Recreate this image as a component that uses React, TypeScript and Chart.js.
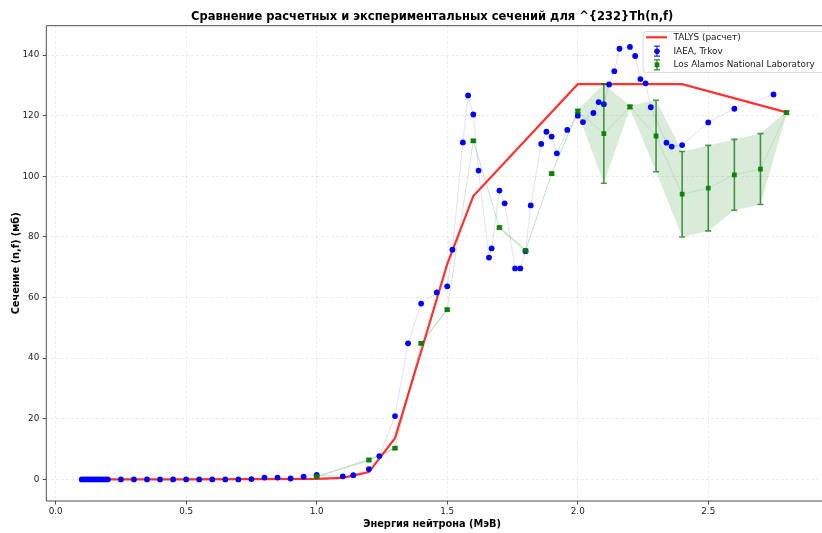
import React, { useEffect, useRef } from 'react';
import { Chart, registerables } from 'chart.js';

Chart.register(...registerables);

const TITLE = 'Сравнение расчетных и экспериментальных сечений для ^{232}Th(n,f)';
const X_LABEL = 'Энергия нейтрона (МэВ)';
const Y_LABEL = 'Сечение (n,f) (мб)';
const TALYS_LABEL = 'TALYS (расчет)';
const IAEA_LABEL = 'IAEA, Trkov';
const LANL_LABEL = 'Los Alamos National Laboratory';

// TALYS calculation
const talysE = [0.1, 0.5, 1.0, 1.1, 1.2, 1.3, 1.4, 1.5, 1.6, 2.0, 2.4, 2.8];
const talysXS = [0.0, 0.0, 0.2, 0.5, 2.4, 13.6, 42.2, 71.0, 93.5, 130.4, 130.4, 121.1];

// IAEA, Trkov
const iaeaE = [
  0.1, 0.11, 0.12, 0.13, 0.14, 0.15, 0.16, 0.17, 0.18, 0.19, 0.2,
  0.25, 0.3, 0.35, 0.4, 0.45, 0.5, 0.55, 0.6, 0.65, 0.7, 0.75, 0.8, 0.85, 0.9, 0.95, 1.0,
  1.1, 1.14, 1.2, 1.24, 1.3, 1.35, 1.4, 1.46, 1.5, 1.52, 1.56, 1.58, 1.6, 1.62,
  1.66, 1.67, 1.7, 1.72, 1.76, 1.78, 1.8, 1.82, 1.86, 1.88, 1.9, 1.92, 1.96,
  2.0, 2.02, 2.06, 2.08, 2.1, 2.12, 2.14, 2.16, 2.2, 2.22, 2.24, 2.26, 2.28,
  2.34, 2.36, 2.4, 2.5, 2.6, 2.75,
];
const iaeaXS = [
  0.0, 0.0, 0.0, 0.0, 0.0, 0.0, 0.0, 0.0, 0.0, 0.0, 0.0,
  0.0, 0.0, 0.0, 0.0, 0.0, 0.0, 0.0, 0.0, 0.0, 0.0, 0.1, 0.6, 0.6, 0.3, 0.9, 1.5,
  1.0, 1.4, 3.4, 7.7, 20.9, 44.9, 58.0, 61.7, 63.7, 75.8, 111.2, 126.7, 120.4, 101.9,
  73.2, 76.2, 95.3, 91.1, 69.6, 69.6, 75.3, 90.4, 110.7, 114.7, 113.1, 107.6, 115.3,
  120.0, 117.9, 120.9, 124.5, 123.8, 130.3, 134.7, 142.1, 142.7, 139.7, 132.1, 130.7, 122.8,
  111.1, 109.8, 110.3, 117.8, 122.3, 127.0,
];

// Los Alamos National Laboratory
const lanlE = [1.0, 1.2, 1.3, 1.4, 1.5, 1.6, 1.7, 1.8, 1.9, 2.0, 2.1, 2.2, 2.3, 2.4, 2.5, 2.6, 2.7, 2.8];
const lanlXS = [0.9, 6.4, 10.3, 44.9, 56.0, 111.7, 83.1, 75.5, 100.9, 121.5, 114.1, 122.9, 113.3, 94.1, 96.1, 100.5, 102.4, 121.0];
const lanlErr = [0.2, 0.4, 0.4, 0.4, 0.4, 0.4, 0.4, 0.4, 0.4, 0.5, 16.4, 0.5, 11.8, 14.1, 14.1, 11.7, 11.7, 0.5];

const xTicks = [0.0, 0.5, 1.0, 1.5, 2.0, 2.5];
const yTicks = [0, 20, 40, 60, 80, 100, 120, 140];

const X_MIN = -0.0358;
const X_MAX = 2.9204;
const Y_MIN = -7.13;
const Y_MAX = 149.7;

const FONT = "'DejaVu Sans', 'Noto Sans', sans-serif";

const pts = (xs: number[], ys: number[]) => xs.map((x, i) => ({ x, y: ys[i] }));

const LANL_INDEX = 0;

const errorBarPlugin = {
  id: 'errorBars',
  beforeDatasetDraw(chart: any, args: any) {
    if (args.index !== LANL_INDEX) return;
    const { ctx, scales, chartArea } = chart;
    const xs = scales.x;
    const ys = scales.y;
    ctx.save();
    ctx.beginPath();
    ctx.rect(chartArea.left, chartArea.top, chartArea.right - chartArea.left, chartArea.bottom - chartArea.top);
    ctx.clip();
    ctx.strokeStyle = 'rgba(0,100,0,0.68)';
    ctx.lineWidth = 1.6;
    const cap = 3;
    lanlE.forEach((e, i) => {
      const px = xs.getPixelForValue(e);
      const top = ys.getPixelForValue(lanlXS[i] + lanlErr[i]);
      const bot = ys.getPixelForValue(lanlXS[i] - lanlErr[i]);
      ctx.beginPath();
      ctx.moveTo(px, top);
      ctx.lineTo(px, bot);
      ctx.moveTo(px - cap, top);
      ctx.lineTo(px + cap, top);
      ctx.moveTo(px - cap, bot);
      ctx.lineTo(px + cap, bot);
      ctx.stroke();
    });
    ctx.restore();
  },
};

const framePlugin = {
  id: 'frame',
  afterDraw(chart: any) {
    const { ctx, chartArea, width } = chart;
    ctx.save();
    ctx.strokeStyle = '#222';
    ctx.lineWidth = 0.8;
    ctx.beginPath();
    ctx.moveTo(width + 2, chartArea.top);
    ctx.lineTo(chartArea.left, chartArea.top);
    ctx.lineTo(chartArea.left, chartArea.bottom);
    ctx.lineTo(width + 2, chartArea.bottom);
    ctx.stroke();

    // legend box
    const lx = 643;
    const ly = 31.5;
    const lw = 200;
    const lh = 41;
    const r = 3;
    ctx.beginPath();
    ctx.moveTo(lx + r, ly);
    ctx.lineTo(lx + lw, ly);
    ctx.lineTo(lx + lw, ly + lh);
    ctx.lineTo(lx + r, ly + lh);
    ctx.arcTo(lx, ly + lh, lx, ly + lh - r, r);
    ctx.lineTo(lx, ly + r);
    ctx.arcTo(lx, ly, lx + r, ly, r);
    ctx.closePath();
    ctx.fillStyle = 'rgba(255,255,255,0.85)';
    ctx.fill();
    ctx.strokeStyle = 'rgba(204,204,204,0.9)';
    ctx.lineWidth = 0.8;
    ctx.stroke();

    // TALYS sample
    const rowY = [37.3, 51.2, 64.8];
    ctx.strokeStyle = 'rgba(255,0,0,0.8)';
    ctx.lineWidth = 2.2;
    ctx.beginPath();
    ctx.moveTo(646, rowY[0]);
    ctx.lineTo(667, rowY[0]);
    ctx.stroke();

    // IAEA sample
    const mx = 657;
    ctx.strokeStyle = 'rgba(0,0,255,0.85)';
    ctx.lineWidth = 1.2;
    ctx.beginPath();
    ctx.moveTo(mx, rowY[1] - 5);
    ctx.lineTo(mx, rowY[1] + 5);
    ctx.moveTo(mx - 3, rowY[1] - 5);
    ctx.lineTo(mx + 3, rowY[1] - 5);
    ctx.moveTo(mx - 3, rowY[1] + 5);
    ctx.lineTo(mx + 3, rowY[1] + 5);
    ctx.stroke();
    ctx.fillStyle = '#0000ff';
    ctx.beginPath();
    ctx.arc(mx, rowY[1], 2.8, 0, Math.PI * 2);
    ctx.fill();

    // LANL sample
    ctx.strokeStyle = 'rgba(0,100,0,0.68)';
    ctx.lineWidth = 1.6;
    ctx.beginPath();
    ctx.moveTo(mx, rowY[2] - 5);
    ctx.lineTo(mx, rowY[2] + 5);
    ctx.moveTo(mx - 3, rowY[2] - 5);
    ctx.lineTo(mx + 3, rowY[2] - 5);
    ctx.moveTo(mx - 3, rowY[2] + 5);
    ctx.lineTo(mx + 3, rowY[2] + 5);
    ctx.stroke();
    ctx.fillStyle = 'rgba(0,128,0,0.92)';
    ctx.fillRect(mx - 2.4, rowY[2] - 2.4, 4.8, 4.8);

    ctx.fillStyle = '#1a1a1a';
    ctx.font = `8.9px ${FONT}`;
    ctx.textAlign = 'left';
    ctx.textBaseline = 'middle';
    ctx.fillText(TALYS_LABEL, 673.5, rowY[0]);
    ctx.fillText(IAEA_LABEL, 673.5, rowY[1]);
    ctx.fillText(LANL_LABEL, 673.5, rowY[2]);
    ctx.restore();
  },
};

export default function App() {
  const canvasRef = useRef<HTMLCanvasElement | null>(null);

  useEffect(() => {
    const canvas = canvasRef.current;
    if (!canvas) return;

    const upper = lanlXS.map((v, i) => v + lanlErr[i]);
    const lower = lanlXS.map((v, i) => v - lanlErr[i]);

    const gridColor = 'rgba(176,176,176,0.32)';
    const tickFont = { family: FONT, size: 8.8 };
    const axisTitleFont = { family: FONT, size: 9.8, weight: 'bold' as const };

    const chart = new Chart(canvas, {
      type: 'line',
      data: {
        datasets: [
          {
            label: LANL_LABEL,
            data: pts(lanlE, lanlXS),
            showLine: false,
            pointStyle: 'rect',
            pointRadius: 3.4,
            pointBackgroundColor: 'rgba(0,128,0,0.92)',
            pointBorderWidth: 0,
            borderColor: 'rgba(0,128,0,0.92)',
          },
          {
            label: IAEA_LABEL,
            data: pts(iaeaE, iaeaXS),
            showLine: false,
            pointStyle: 'circle',
            pointRadius: 2.9,
            pointBackgroundColor: '#0000ff',
            pointBorderWidth: 0,
            borderColor: '#0000ff',
          },
          {
            label: TALYS_LABEL,
            data: pts(talysE, talysXS),
            borderColor: 'rgba(255,0,0,0.8)',
            borderWidth: 2.2,
            pointRadius: 0,
            fill: false,
          },
          {
            label: 'iaea-line',
            data: pts(iaeaE, iaeaXS),
            borderColor: 'rgba(0,0,255,0.16)',
            borderWidth: 0.8,
            pointRadius: 0,
            fill: false,
          },
          {
            label: 'lanl-line',
            data: pts(lanlE, lanlXS),
            borderColor: 'rgba(0,128,0,0.16)',
            borderWidth: 0.8,
            pointRadius: 0,
            fill: false,
          },
          {
            label: 'lanl-upper',
            data: pts(lanlE, upper),
            borderWidth: 0,
            borderColor: 'rgba(0,0,0,0)',
            pointRadius: 0,
            backgroundColor: 'rgba(0,128,0,0.15)',
            fill: '+1',
          },
          {
            label: 'lanl-lower',
            data: pts(lanlE, lower),
            borderWidth: 0,
            borderColor: 'rgba(0,0,0,0)',
            pointRadius: 0,
            fill: false,
          },
        ],
      },
      options: {
        responsive: false,
        animation: false,
        devicePixelRatio: 1,
        layout: { padding: 0 },
        plugins: {
          legend: { display: false },
          tooltip: { enabled: false },
          title: {
            display: true,
            text: TITLE,
            fullSize: false,
            color: '#000',
            font: { family: FONT, size: 11.5, weight: 'bold', lineHeight: 1.2 },
            padding: { top: 9.8, bottom: 2.1 },
          },
        },
        scales: {
          x: {
            type: 'linear',
            min: X_MIN,
            max: X_MAX,
            afterBuildTicks: (s: any) => {
              s.ticks = xTicks.map((v) => ({ value: v }));
            },
            afterFit: (s: any) => {
              s.height = 32;
            },
            ticks: {
              autoSkip: false,
              maxRotation: 0,
              minRotation: 0,
              padding: 2,
              color: '#222',
              font: tickFont,
              callback: (v: any) => Number(v).toFixed(1),
            },
            grid: {
              color: gridColor,
              lineWidth: 0.7,
              drawTicks: true,
              tickLength: 3.5,
              tickColor: '#222',
              tickWidth: 0.8,
              tickBorderDash: [],
            } as any,
            border: { display: false, dash: [3, 2] },
            title: {
              display: true,
              text: X_LABEL,
              color: '#000',
              font: axisTitleFont,
              padding: { top: 0, bottom: 2.8 },
            },
          },
          y: {
            type: 'linear',
            min: Y_MIN,
            max: Y_MAX,
            afterBuildTicks: (s: any) => {
              s.ticks = yTicks.map((v) => ({ value: v }));
            },
            afterFit: (s: any) => {
              s.width = 46.3;
            },
            ticks: {
              autoSkip: false,
              padding: 3.5,
              color: '#222',
              font: tickFont,
              callback: (v: any) => String(v),
            },
            grid: {
              color: gridColor,
              lineWidth: 0.7,
              drawTicks: true,
              tickLength: 3.5,
              tickColor: '#222',
              tickWidth: 0.8,
              tickBorderDash: [],
            } as any,
            border: { display: false, dash: [3, 2] },
            title: {
              display: true,
              text: Y_LABEL,
              color: '#000',
              font: axisTitleFont,
              padding: { top: 11, bottom: 0 },
            },
          },
        },
      },
      plugins: [errorBarPlugin, framePlugin],
    });

    return () => chart.destroy();
  }, []);

  return (
    <div style={{ position: 'absolute', left: 0, top: 0, width: 822, height: 533, background: '#fff' }}>
      <canvas ref={canvasRef} width={822} height={533} style={{ display: 'block', width: 822, height: 533 }} />
    </div>
  );
}
